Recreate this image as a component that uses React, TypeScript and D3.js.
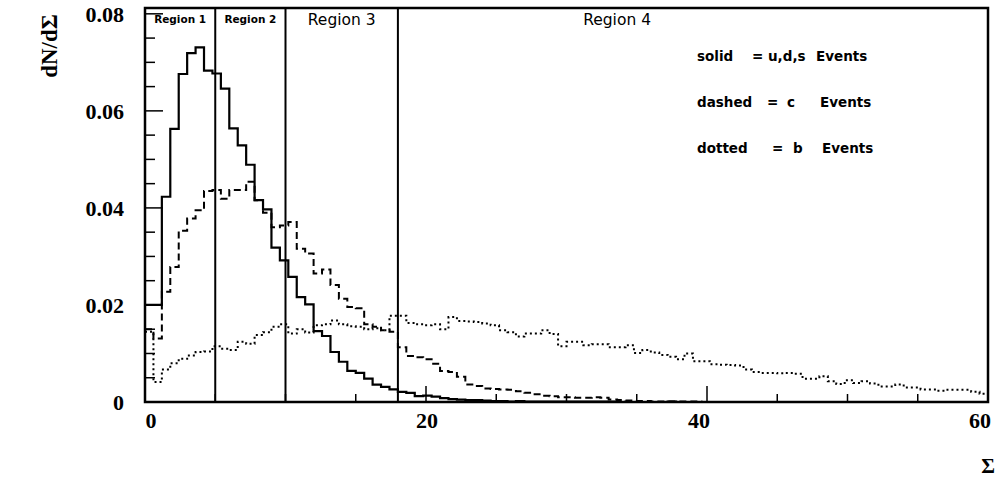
import React, { useEffect, useRef } from 'react';
import * as d3 from 'd3';

// 100 bins of width 0.6 over Sigma = 0..60
const binWidth = 0.6;

const solidValues = [
  0.020, 0.020, 0.0423, 0.0563, 0.0676, 0.0719, 0.0731, 0.0683, 0.0677, 0.0646,
  0.0564, 0.0529, 0.0489, 0.0416, 0.0397, 0.0318, 0.0292, 0.0258, 0.0216, 0.0201,
  0.0146, 0.0136, 0.0103, 0.0083, 0.0064, 0.0060, 0.0048, 0.0036, 0.0031, 0.0026,
  0.0021, 0.0019, 0.0012, 0.0013, 0.0011, 0.0008, 0.0006, 0.0005, 0.0004, 0.0004,
  0.0003, 0.0002, 0.0002, 0.0001, 0.0002, 0.0001, 0.0001, 0.0001, 0.0001, 0.0001,
  0.0001, 0.0001, 0.0001, 0.0001, 0.0001, 0.0001, 0, 0, 0, 0,
  0, 0, 0.0001, 0, 0, 0, 0, 0, 0, 0,
  0, 0, 0, 0, 0, 0, 0, 0, 0, 0,
  0, 0, 0, 0, 0, 0, 0, 0, 0, 0,
  0, 0, 0, 0, 0, 0, 0, 0, 0, 0,
];

const dashedValues = [
  0.0150, 0.0131, 0.0227, 0.0278, 0.0353, 0.0378, 0.0395, 0.0435, 0.0437, 0.0419,
  0.0437, 0.0437, 0.0454, 0.0416, 0.0390, 0.0360, 0.0364, 0.0371, 0.0316, 0.0306,
  0.0265, 0.0273, 0.0241, 0.0213, 0.0196, 0.0193, 0.0160, 0.0155, 0.0148, 0.0145,
  0.0113, 0.0095, 0.0092, 0.0088, 0.0079, 0.0064, 0.0062, 0.0052, 0.0036, 0.0033,
  0.0028, 0.0027, 0.0026, 0.0025, 0.0022, 0.0019, 0.0016, 0.0013, 0.0012, 0.0010,
  0.0010, 0.0009, 0.0009, 0.0010, 0.0009, 0.0005, 0.0004, 0.0003, 0.0002, 0.0002,
  0.0001, 0.0001, 0.0001, 0.0001, 0.0001, 0.0001, 0, 0, 0, 0,
  0, 0, 0, 0, 0, 0, 0, 0, 0, 0,
  0, 0, 0, 0, 0, 0, 0, 0, 0, 0,
  0, 0, 0, 0, 0, 0, 0, 0, 0, 0,
];

const dottedValues = [
  0.0145, 0.0041, 0.0067, 0.0080, 0.0089, 0.0096, 0.0103, 0.0104, 0.0115, 0.0110,
  0.0107, 0.0124, 0.0120, 0.0138, 0.0144, 0.0155, 0.0160, 0.0141, 0.0150, 0.0143,
  0.0158, 0.0160, 0.0168, 0.0160, 0.0156, 0.0155, 0.0150, 0.0152, 0.0148, 0.0178,
  0.0178, 0.0163, 0.0160, 0.0158, 0.0160, 0.0150, 0.0175, 0.0167, 0.0166, 0.0165,
  0.0162, 0.0158, 0.0148, 0.0144, 0.0135, 0.0141, 0.0141, 0.0148, 0.0140, 0.0115,
  0.0124, 0.0124, 0.0117, 0.0119, 0.0119, 0.0113, 0.0113, 0.0117, 0.0101, 0.0107,
  0.0102, 0.0097, 0.0093, 0.0088, 0.0100, 0.0084, 0.0084, 0.0078, 0.0077, 0.0076,
  0.0075, 0.0067, 0.0062, 0.0060, 0.0060, 0.0059, 0.0060, 0.0058, 0.0048, 0.0048,
  0.0053, 0.0043, 0.0037, 0.0045, 0.0039, 0.0043, 0.0038, 0.0032, 0.0032, 0.0036,
  0.0030, 0.0030, 0.0026, 0.0026, 0.0023, 0.0025, 0.0025, 0.0025, 0.0021, 0.0017,
];

const regionEdges = [5, 10, 18];
const regionLabels = [
  { text: 'Region 1', at: 2.5, size: 10.5 },
  { text: 'Region 2', at: 7.5, size: 10.5 },
  { text: 'Region 3', at: 14, size: 15.5 },
  { text: 'Region 4', at: 33.6, size: 15.5 },
];

const xMajor = [0, 20, 40, 60];
const xMajorLabels = ['0', '20', '40', '60'];
const xLabelNudge = [6, 1, -8, -8];
const xMinor = d3.range(0, 61, 5);
const yMajor = [0, 0.02, 0.04, 0.06, 0.08];
const yMajorLabels = ['0', '0.02', '0.04', '0.06', '0.08'];
const yMinor = d3.range(0, 0.0801, 0.005);

// legend pieces: [text, offset from row start]
const legendRows = [
  { name: 'solid', parts: [['=', 55], ['u,d,s', 71], ['Events', 119]] },
  { name: 'dashed', parts: [['=', 70], ['c', 90], ['Events', 123]] },
  { name: 'dotted', parts: [['=', 75], ['b', 96], ['Events', 125]] },
];

export default function App() {
  const ref = useRef<HTMLDivElement>(null);

  useEffect(() => {
    const el = ref.current;
    if (!el) return;
    document.body.style.margin = '0';
    d3.select(el).selectAll('*').remove();

    const W = 1005, H = 479;
    const margin = { top: 8, left: 145, right: 17, bottom: 77 };
    const width = W - margin.left - margin.right;
    const height = H - margin.top - margin.bottom;

    const svg = d3.select(el)
      .append('svg')
      .attr('width', W)
      .attr('height', H)
      .style('display', 'block');

    svg.append('rect').attr('width', W).attr('height', H).attr('fill', '#fff');

    const g = svg.append('g')
      .attr('transform', 'translate(' + margin.left + ',' + margin.top + ')');

    const x = d3.scaleLinear().domain([0, 60]).range([0, width]);
    const y = d3.scaleLinear().domain([0, 0.0812]).range([height, 0]);

    // histograms
    const line = d3.line<number[]>()
      .x(d => x(d[0]))
      .y(d => y(d[1]))
      .curve(d3.curveStepAfter);

    function pts(vals: number[]) {
      const p = vals.map((v, i) => [i * binWidth, v]);
      p.push([vals.length * binWidth, vals[vals.length - 1]]);
      return p;
    }

    g.append('path')
      .attr('d', line(pts(dottedValues)))
      .attr('fill', 'none')
      .attr('stroke', '#000')
      .attr('stroke-width', 2)
      .attr('stroke-dasharray', '2,3');

    g.append('path')
      .attr('d', line(pts(dashedValues)))
      .attr('fill', 'none')
      .attr('stroke', '#000')
      .attr('stroke-width', 2)
      .attr('stroke-dasharray', '7,4');

    g.append('path')
      .attr('d', line(pts(solidValues)))
      .attr('fill', 'none')
      .attr('stroke', '#000')
      .attr('stroke-width', 2.2);

    // region dividers
    g.selectAll('line.region')
      .data(regionEdges)
      .enter()
      .append('line')
      .attr('x1', d => x(d))
      .attr('x2', d => x(d))
      .attr('y1', 0)
      .attr('y2', height)
      .attr('stroke', '#000')
      .attr('stroke-width', 2);

    g.selectAll('text.region')
      .data(regionLabels)
      .enter()
      .append('text')
      .attr('x', d => x(d.at))
      .attr('y', d => (d.size < 12 ? 15 : 17))
      .attr('text-anchor', 'middle')
      .style('font-family', '"DejaVu Sans", sans-serif')
      .style('font-weight', d => (d.size < 12 ? 'bold' : 'normal'))
      .style('font-size', d => d.size + 'px')
      .text(d => d.text);

    // ticks
    g.selectAll('line.ymin')
      .data(yMinor)
      .enter()
      .append('line')
      .attr('x1', 0)
      .attr('x2', d => (yMajor.some(m => Math.abs(m - d) < 1e-6) ? 18 : 10))
      .attr('y1', d => y(d))
      .attr('y2', d => y(d))
      .attr('stroke', '#000')
      .attr('stroke-width', 1.5);

    g.selectAll('line.xmin')
      .data(xMinor)
      .enter()
      .append('line')
      .attr('x1', d => x(d))
      .attr('x2', d => x(d))
      .attr('y1', height)
      .attr('y2', d => height - (xMajor.indexOf(d) >= 0 ? 16 : 8))
      .attr('stroke', '#000')
      .attr('stroke-width', 1.5);

    // frame
    g.append('rect')
      .attr('width', width)
      .attr('height', height)
      .attr('fill', 'none')
      .attr('stroke', '#000')
      .attr('stroke-width', 2.5);

    // tick labels
    g.selectAll('text.ylab')
      .data(yMajor)
      .enter()
      .append('text')
      .attr('x', -21)
      .attr('y', d => y(d) + 8)
      .attr('text-anchor', 'end')
      .style('font-family', '"Liberation Serif", serif')
      .style('font-weight', 'bold')
      .style('font-size', '22px')
      .text((d, i) => yMajorLabels[i]);

    g.selectAll('text.xlab')
      .data(xMajor)
      .enter()
      .append('text')
      .attr('x', (d, i) => x(d) + xLabelNudge[i])
      .attr('y', height + 26)
      .attr('text-anchor', 'middle')
      .style('font-family', '"Liberation Serif", serif')
      .style('font-weight', 'bold')
      .style('font-size', '22px')
      .text((d, i) => xMajorLabels[i]);

    // axis titles
    svg.append('text')
      .attr('transform', 'translate(57,46) rotate(-90)')
      .attr('text-anchor', 'middle')
      .style('font-family', '"Liberation Serif", serif')
      .style('font-weight', 'bold')
      .style('font-size', '23px')
      .text('dN/dΣ');

    svg.append('text')
      .attr('x', 988)
      .attr('y', 473)
      .attr('text-anchor', 'middle')
      .style('font-family', '"Liberation Serif", serif')
      .style('font-weight', 'bold')
      .style('font-size', '21px')
      .text('Σ');

    // legend
    const legend = g.append('g')
      .style('font-family', '"DejaVu Sans", sans-serif')
      .style('font-weight', 'bold')
      .style('font-size', '13.5px');
    legendRows.forEach((r, i) => {
      const yy = 53 + i * 46;
      legend.append('text')
        .attr('x', 552)
        .attr('y', yy)
        .text(r.name);
      r.parts.forEach(p => {
        legend.append('text')
          .attr('x', 552 + (p[1] as number))
          .attr('y', yy)
          .text(p[0] as string);
      });
    });
  }, []);

  return <div ref={ref}></div>;
}
